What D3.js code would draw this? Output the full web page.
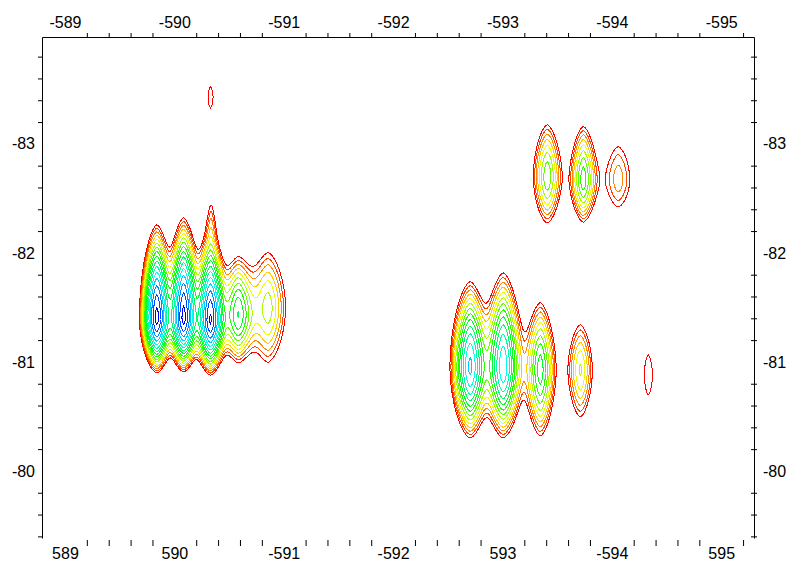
<!DOCTYPE html>
<html><head><meta charset="utf-8">
<script src="https://cdn.jsdelivr.net/npm/d3@7"></script>
<style>
body{margin:0;background:#fff}
svg text{font-family:"Liberation Sans",Arial,sans-serif;font-size:16px;fill:#000}
</style>
</head><body><svg id="c" width="791" height="563"></svg>
<script>
// ---- axis data ----
const xDomain = [-588.79, -595.30];
const yDomain = [-83.98, -79.385];
const xTickValues = [-589, -590, -591, -592, -593, -594, -595];
const xTickLabelsTop = ["-589", "-590", "-591", "-592", "-593", "-594", "-595"];
const xTickLabelsBottom = ["589", "590", "-591", "-592", "593", "-594", "595"];
const yTickValues = [-83, -82, -81, -80];
const yTickLabels = ["-83", "-82", "-81", "-80"];

// ---- peaks (centre, height, outer half-width, outer extent up / down) ----
const peakX    = [-589.840, -590.085, -590.330, -590.583, -590.857, -590.336, -590.331,
                  -592.705, -593.007, -593.346, -593.712, -594.334,
                  -593.410, -593.739, -594.059];
const peakY    = [-81.404, -81.404, -81.385, -81.431, -81.495, -82.250, -83.431,
                  -80.954, -80.954, -80.927, -80.927, -80.881,
                  -82.697, -82.670, -82.670];
const peakAmp  = [1.05, 1.05, 1.00, 0.27, 0.13, 0.05, 0.045,
                  0.55, 0.50, 0.25, 0.12, 0.045,
                  0.17, 0.20, 0.07];
const peakHalfWidth = [0.160, 0.165, 0.165, 0.160, 0.160, 0.020, 0.023,
                       0.185, 0.185, 0.140, 0.110, 0.037,
                       0.128, 0.119, 0.105];
const peakUp   = [0.853, 0.917, 0.798, 0.523, 0.505, 0.15, 0.092,
                  0.780, 0.862, 0.615, 0.413, 0.183,
                  0.477, 0.486, 0.303];
const peakDown = [0.505, 0.495, 0.505, 0.431, 0.495, 0.15, 0.101,
                  0.651, 0.651, 0.606, 0.431, 0.183,
                  0.422, 0.385, 0.248];

// ---- contour levels ----
const contourLevels = [0.040, 0.0496, 0.0614, 0.0761, 0.0943, 0.117, 0.145, 0.179,
                       0.222, 0.276, 0.342, 0.423, 0.525, 0.650, 0.806, 0.98];

const W = 791, H = 563;
const plot = {left: 42, right: 754, top: 37, bottom: 538};
const svg = d3.select("#c");

const x = d3.scaleLinear().domain(xDomain).range([plot.left, plot.right]);
const y = d3.scaleLinear().domain(yDomain).range([plot.top, plot.bottom]);

// ---- build field on a pixel grid ----
const gw = plot.right - plot.left, gh = plot.bottom - plot.top;
const values = new Float64Array(gw * gh);
const px = 1.6, qy = 1.8, t0 = contourLevels[0];
const xs = new Float64Array(gw), ys = new Float64Array(gh);
for (let i = 0; i < gw; i++) xs[i] = x.invert(plot.left + i + 0.5);
for (let j = 0; j < gh; j++) ys[j] = y.invert(plot.top + j + 0.5);
peakX.forEach((cx, k) => {
  const A = peakAmp[k];
  const k0 = Math.log(A / t0);
  const sx = peakHalfWidth[k] / Math.pow(k0, 1 / px);
  const sUp = peakUp[k] / Math.pow(k0, 1 / qy);
  const sDn = peakDown[k] / Math.pow(k0, 1 / qy);
  const cy = peakY[k];
  const ex = new Float64Array(gw);
  for (let i = 0; i < gw; i++) ex[i] = Math.pow(Math.abs(xs[i] - cx) / sx, px);
  for (let j = 0; j < gh; j++) {
    const dy = ys[j] - cy;
    const ey = Math.pow(Math.abs(dy) / (dy < 0 ? sUp : sDn), qy);
    if (ey > 12) continue;
    const row = j * gw;
    for (let i = 0; i < gw; i++) {
      const e = ex[i] + ey;
      if (e < 12) values[row + i] += A * Math.exp(-e);
    }
  }
});

const contours = d3.contours().size([gw, gh]).thresholds(contourLevels)(values);
const n = contourLevels.length;
const color = i => d3.hsl(240 * i / (n - 1), 1, 0.5).formatHex();
const path = d3.geoPath();
svg.append("g")
  .attr("transform", `translate(${plot.left},${plot.top})`)
  .selectAll("path").data(contours).join("path")
  .attr("d", path)
  .attr("fill", "none")
  .attr("stroke", (d, i) => color(i))
  .attr("stroke-width", 1)
  .attr("shape-rendering", "crispEdges");

// ---- axes ----
const minorX = d3.range(-589.2, -595.25, -0.2).filter(v => Math.abs(v - Math.round(v)) > 0.05);
const minorY = d3.range(-83.8, -79.35, 0.2).filter(v => Math.abs(v - Math.round(v)) > 0.05);

function style(g) {
  g.attr("font-family", null).attr("font-size", null);
  g.selectAll("path,line").attr("stroke", "#000").attr("stroke-width", 1);
}

// top
svg.append("g").attr("transform", `translate(0,${plot.top})`)
  .call(d3.axisTop(x).tickValues(minorX).tickSize(4).tickSizeOuter(0).tickFormat(""))
  .call(style);
svg.append("g").attr("transform", `translate(0,${plot.top})`)
  .call(d3.axisTop(x).tickValues(xTickValues).tickSize(0).tickPadding(9)
    .tickFormat((d, i) => xTickLabelsTop[i]))
  .call(g => g.select(".domain").remove())
  .call(style);

// bottom
svg.append("g").attr("transform", `translate(0,${plot.bottom + 2})`)
  .call(d3.axisBottom(x).tickValues(minorX).tickSize(6).tickFormat(""))
  .call(g => g.select(".domain").remove())
  .call(style);
svg.append("g").attr("transform", `translate(0,${plot.bottom + 2})`)
  .call(d3.axisBottom(x).tickValues(xTickValues).tickSize(0).tickPadding(8)
    .tickFormat((d, i) => xTickLabelsBottom[i]))
  .call(g => g.select(".domain").remove())
  .call(style);

// left
svg.append("g").attr("transform", `translate(${plot.left},0)`)
  .call(d3.axisLeft(y).tickValues(minorY).tickSize(4).tickSizeOuter(0).tickFormat(""))
  .call(style);
svg.append("g").attr("transform", `translate(${plot.left},0)`)
  .call(d3.axisLeft(y).tickValues(yTickValues).tickSize(0).tickPadding(7)
    .tickFormat((d, i) => yTickLabels[i]))
  .call(g => g.select(".domain").remove())
  .call(style);

// right
svg.append("g").attr("transform", `translate(${plot.right},0)`)
  .call(d3.axisRight(y).tickValues(minorY).tickSize(3).tickSizeOuter(0).tickFormat(""))
  .call(g => g.selectAll(".tick line").attr("x1", -3))
  .call(style);
svg.append("g").attr("transform", `translate(${plot.right},0)`)
  .call(d3.axisRight(y).tickValues(yTickValues).tickSize(0).tickPadding(9)
    .tickFormat((d, i) => yTickLabels[i]))
  .call(g => g.select(".domain").remove())
  .call(style);
</script>
</body></html>
